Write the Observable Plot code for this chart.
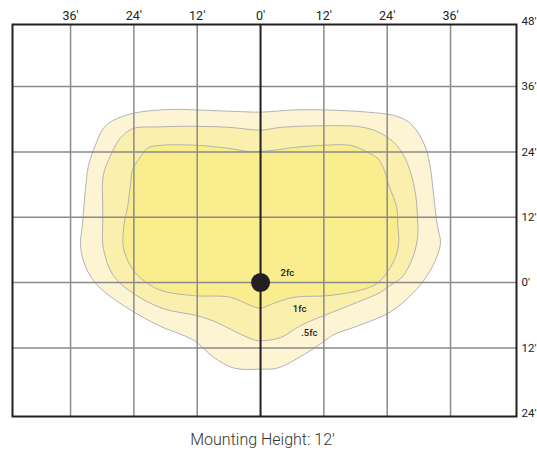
<!DOCTYPE html>
<html>
<head>
<meta charset="utf-8">
<script src="https://cdn.jsdelivr.net/npm/d3@7"></script>
<script src="https://cdn.jsdelivr.net/npm/@observablehq/plot@0.6"></script>
<style>
  html, body { margin: 0; padding: 0; background: #fff; }
  #chart { width: 537px; }
  #caption { width: 537px; box-sizing: border-box; padding-right: 12px; text-align: center;
    font-family: Roboto, "Liberation Sans", sans-serif; font-weight: 300; font-size: 16px;
    color: #333; line-height: 32px; }
</style>
</head>
<body>
<div id="chart"></div>
<div id="caption">Mounting Height: 12'</div>
<script>
// Axis ticks (feet)
const topTicks = [-36, -24, -12, 0, 12, 24, 36];
const rightTicks = [48, 36, 24, 12, 0, -12, -24];
const xGrid = [-36, -24, -12, 12, 24, 36];
const yGrid = [36, 24, 12, 0, -12];

// Isofootcandle contours [x ft, y ft]
const halfFc = [[-14.6,31.8],[-11.9,31.7],[-3.8,31.4],[0,31.3],[6.3,31.7],[12.5,31.7],[20.3,31.3],[25.2,30.7],[27.9,29.6],[29.8,27.6],[31.3,24.7],[32.2,21.0],[32.8,16.0],[33.5,10.5],[34.1,7.4],[33.5,5.0],[31.6,1.3],[29.0,-1.8],[24.6,-5.4],[18.9,-7.8],[13.8,-9.6],[11.9,-10.9],[8.1,-13.3],[3.2,-15.7],[0,-15.9],[-5.1,-15.7],[-8.9,-13.7],[-12.7,-10.6],[-19.5,-7.8],[-26.0,-4.2],[-30.9,-0.5],[-33.2,3.0],[-34.1,6.7],[-33.7,11.1],[-33.2,16.9],[-32.6,21.5],[-31.3,25.2],[-29.8,28.3],[-27.9,29.8],[-24.1,31.1],[-19.0,31.7]];
const oneFc = [[-11.9,28.7],[-5.7,28.5],[0,28.0],[3.8,28.5],[11.9,28.8],[18.9,28.6],[22.2,27.7],[25.2,25.8],[27.1,23.4],[28.4,20.3],[29.4,16.0],[29.8,10.5],[29.8,8.7],[29.0,5.0],[26.8,1.0],[24.6,-0.5],[22.7,-1.8],[18.4,-3.6],[11.9,-6.1],[7.6,-7.9],[3.8,-10.1],[0,-10.7],[-1.3,-10.5],[-4.4,-9.2],[-8.1,-7.4],[-11.9,-6.1],[-18.4,-4.8],[-24.1,-2.0],[-27.9,1.3],[-29.8,6.3],[-29.9,11.1],[-29.9,13.8],[-29.8,19.7],[-28.4,23.4],[-27.1,25.8],[-26.0,27.1],[-24.1,28.3],[-19.0,28.6]];
const twoFc = [[-11.9,25.2],[-5.7,24.6],[-2.5,24.1],[0,24.1],[2.5,24.3],[6.3,24.8],[11.9,25.2],[17.1,25.2],[20.3,23.9],[22.2,22.8],[23.3,21.0],[24.3,17.9],[25.8,13.8],[26.0,10.5],[26.2,7.8],[25.8,5.3],[24.6,2.8],[22.2,-0.1],[18.9,-1.4],[12.7,-2.4],[6.3,-2.7],[2.5,-3.8],[0,-4.7],[-1.9,-4.2],[-5.7,-2.7],[-12.7,-2.4],[-19.0,-1.4],[-22.7,0.8],[-24.6,3.0],[-26.0,6.5],[-25.8,11.1],[-25.2,13.8],[-24.6,18.4],[-24.3,20.6],[-22.7,23.2],[-21.4,24.7],[-19.0,25.2]];

const contourLabels = [
  {x: 3.8, y: 1.8, text: "2fc"},
  {x: 6.1, y: -4.8, text: "1fc"},
  {x: 7.7, y: -9.3, text: ".5fc"}
];
const fixture = [{x: 0, y: 0}];

const contourStyle = {x: d => d[0], y: d => d[1], curve: "catmull-rom-closed", stroke: "#b3b3b3", strokeWidth: 1};

const plot = Plot.plot({
  width: 537,
  height: 424,
  marginLeft: 12,
  marginRight: 21,
  marginTop: 24,
  marginBottom: 8,
  style: {fontFamily: "Roboto, 'Liberation Sans', Arial, sans-serif", fontSize: "12px", color: "#222", background: "#fff"},
  x: {domain: [-47, 48.5], axis: null},
  y: {domain: [-24.6, 47.4], axis: null},
  marks: [
    Plot.line(halfFc, {...contourStyle, fill: "#fdf4d3"}),
    Plot.line(oneFc, {...contourStyle, fill: "#faefac"}),
    Plot.line(twoFc, {...contourStyle, fill: "#f9ed8e"}),
    Plot.ruleX(xGrid, {stroke: "#8a8a8a", strokeWidth: 1.5}),
    Plot.ruleY(yGrid, {stroke: "#8a8a8a", strokeWidth: 1.5}),
    Plot.ruleX([0], {stroke: "#231f20", strokeWidth: 2}),
    Plot.frame({stroke: "#231f20", strokeWidth: 2}),
    Plot.dot(fixture, {x: "x", y: "y", r: 9.5, fill: "#231f20", stroke: "none"}),
    Plot.text(contourLabels, {x: "x", y: "y", text: "text", textAnchor: "start", fontSize: 9.5, fontWeight: 500, fill: "#231f20"}),
    Plot.axisX(topTicks, {anchor: "top", tickSize: 0, tickPadding: 5, tickFormat: d => Math.abs(d) + "'", fontSize: 12.5, fill: "#222", label: null}),
    Plot.axisY(rightTicks, {anchor: "right", tickSize: 0, tickPadding: 5, tickFormat: d => Math.abs(d) + "'", fontSize: 11.5, fill: "#222", label: null})
  ]
});
document.getElementById("chart").appendChild(plot);
</script>
</body>
</html>
